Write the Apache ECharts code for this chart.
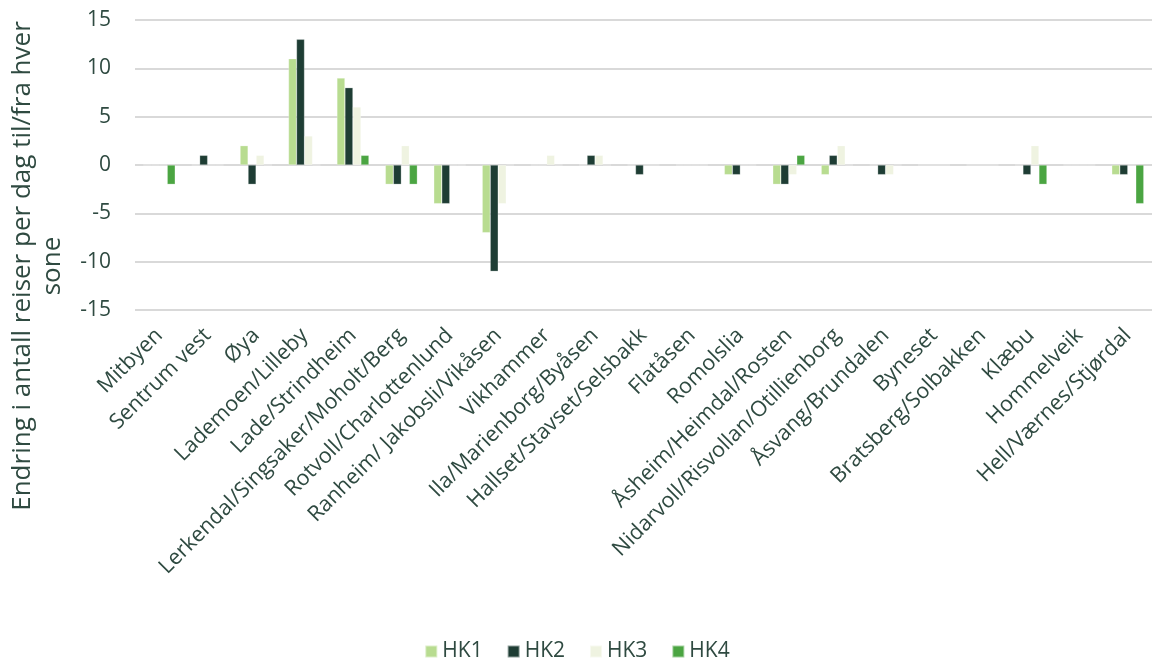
<!DOCTYPE html>
<html>
<head>
<meta charset="utf-8">
<script src="https://cdn.jsdelivr.net/npm/echarts@6/dist/echarts.min.js"></script>
<style>
  html, body { margin: 0; padding: 0; background: #ffffff; }
  #chart { width: 1154px; height: 664px; }
</style>
</head>
<body>
<div id="chart"></div>
<script>
// Soner (kategorier)
const categories = [
  'Mitbyen', 'Sentrum vest', 'Øya', 'Lademoen/Lilleby', 'Lade/Strindheim',
  'Lerkendal/Singsaker/Moholt/Berg', 'Rotvoll/Charlottenlund', 'Ranheim/ Jakobsli/Vikåsen',
  'Vikhammer', 'Ila/Marienborg/Byåsen', 'Hallset/Stavset/Selsbakk', 'Flatåsen',
  'Romolslia', 'Åsheim/Heimdal/Rosten', 'Nidarvoll/Risvollan/Otillienborg',
  'Åsvang/Brundalen', 'Byneset', 'Bratsberg/Solbakken', 'Klæbu', 'Hommelveik',
  'Hell/Værnes/Stjørdal'
];

// Endring i antall reiser per dag, per hovedkategori
const hk1 = [0, 0, 2, 11, 9, -2, -4, -7, 0, 0, 0, 0, -1, -2, -1, 0, 0, 0, 0, 0, -1];
const hk2 = [0, 1, -2, 13, 8, -2, -4, -11, 0, 1, -1, 0, -1, -2, 1, -1, 0, 0, -1, 0, -1];
const hk3 = [0, 0, 1, 3, 6, 2, 0, -4, 1, 1, 0, 0, 0, -1, 2, -1, 0, 0, 2, 0, 0];
const hk4 = [-2, 0, 0, 0, 1, -2, 0, 0, 0, 0, 0, 0, 0, 1, 0, 0, 0, 0, -2, 0, -4];

const seriesNames = ['HK1', 'HK2', 'HK3', 'HK4'];
const yTicks = { min: -15, max: 15, interval: 5 };

const colors = ['#b8dc90', '#1e3d34', '#eff3e1', '#4ba542'];
const textColor = '#2f4a41';
const fontFamily = '"Open Sans", "Noto Sans", sans-serif';

const seriesData = [hk1, hk2, hk3, hk4];

const chart = echarts.init(document.getElementById('chart'), null, { renderer: 'canvas' });

chart.setOption({
  animation: false,
  color: colors,
  textStyle: { fontFamily: fontFamily, color: textColor },
  grid: { left: 135, right: 2, top: 20, bottom: 354, containLabel: false },
  legend: {
    data: seriesNames,
    top: 636,
    left: 'center',
    itemWidth: 12,
    itemHeight: 12,
    itemGap: 24,
    icon: 'rect',
    textStyle: { fontSize: 21, color: textColor, fontFamily: fontFamily }
  },
  xAxis: {
    type: 'category',
    data: categories,
    axisLine: { show: false },
    axisTick: { show: false },
    axisLabel: {
      interval: 0,
      rotate: 45,
      margin: 22,
      fontSize: 21.5,
      color: textColor,
      fontFamily: fontFamily
    }
  },
  yAxis: {
    type: 'value',
    min: yTicks.min,
    max: yTicks.max,
    interval: yTicks.interval,
    axisLine: { show: false },
    axisTick: { show: false },
    axisLabel: { fontSize: 21, color: textColor, margin: 24, fontFamily: fontFamily },
    splitLine: { lineStyle: { color: '#d9d9d9', width: 2 } }
  },
  graphic: [{
    type: 'text',
    x: 38,
    y: 266,
    rotation: Math.PI / 2,
    style: {
      text: 'Endring i antall reiser per dag til/fra hver\nsone',
      textAlign: 'center',
      textVerticalAlign: 'middle',
      fontSize: 26,
      lineHeight: 30,
      fill: textColor,
      fontFamily: fontFamily
    }
  }],
  series: seriesNames.map((name, i) => ({
    name: name,
    type: 'bar',
    data: seriesData[i],
    barWidth: 8,
    barGap: '0%',
    itemStyle: { borderColor: 'rgba(255,255,255,0.5)', borderWidth: 0.5 }
  }))
});
</script>
</body>
</html>
